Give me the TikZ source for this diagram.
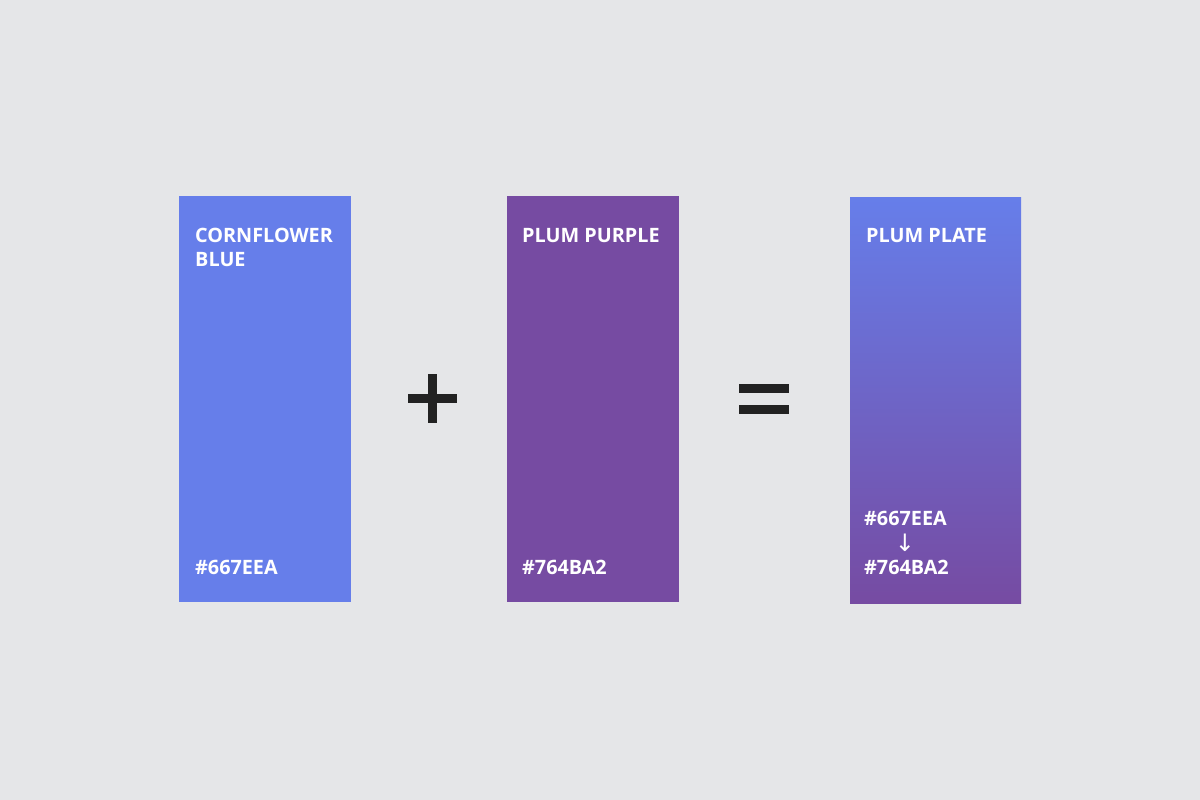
\documentclass[tikz,border=0pt]{standalone}
\usepackage{fontspec}
\setmainfont{Open Sans}
\newfontfamily\arrowfont{DejaVu Sans}
\definecolor{bg}{HTML}{E5E6E8}
\definecolor{cblue}{HTML}{667EEA}
\definecolor{plum}{HTML}{764BA2}
\definecolor{ink}{HTML}{222222}
\begin{document}
\begin{tikzpicture}[x=1pt,y=-1pt,
  lbl/.style={anchor=base west,inner sep=0pt,text=white,font=\fontsize{19.8}{24}\selectfont\bfseries},
  bar/.style={fill=ink,draw=none}]
\fill[bg] (0,0) rectangle (1200,800);
\useasboundingbox (0,0) rectangle (1200,800);
% swatches
\node[fill=cblue,draw=none,inner sep=0pt,minimum width=172pt,minimum height=406pt,anchor=north west] (blue) at (179,196) {};
\node[fill=plum,draw=none,inner sep=0pt,minimum width=172pt,minimum height=406pt,anchor=north west] (purple) at (507,196) {};
\node[top color=cblue,bottom color=plum,draw=none,inner sep=0pt,minimum width=171pt,minimum height=406pt,anchor=north west] (grad) at (850,197) {};
% labels
\node[lbl] (t1) at (195,242) {CORNFLOWER};
\node[lbl] (t1b) at (195,266) {BLUE};
\node[lbl] (h1) at (195,574) {\#667EEA};
\node[lbl] (t2) at (522,242) {PLUM PURPLE};
\node[lbl] (h2) at (522,574) {\#764BA2};
\node[lbl] (t3) at (866,242) {PLUM PLATE};
\node[lbl] (h3a) at (864,525) {\#667EEA};
\node[anchor=base,inner sep=0pt,text=white,font=\arrowfont\fontsize{24}{26}\selectfont] (arr) at (905,551) {↓};
\node[lbl] (h3b) at (864,574) {\#764BA2};
% plus
\fill[ink] (408,394) rectangle (457,403);
\fill[ink] (428,374) rectangle (437,423);
% equals
\fill[ink] (739,384) rectangle (789,393);
\fill[ink] (739,405) rectangle (789,414);
\end{tikzpicture}
\end{document}
